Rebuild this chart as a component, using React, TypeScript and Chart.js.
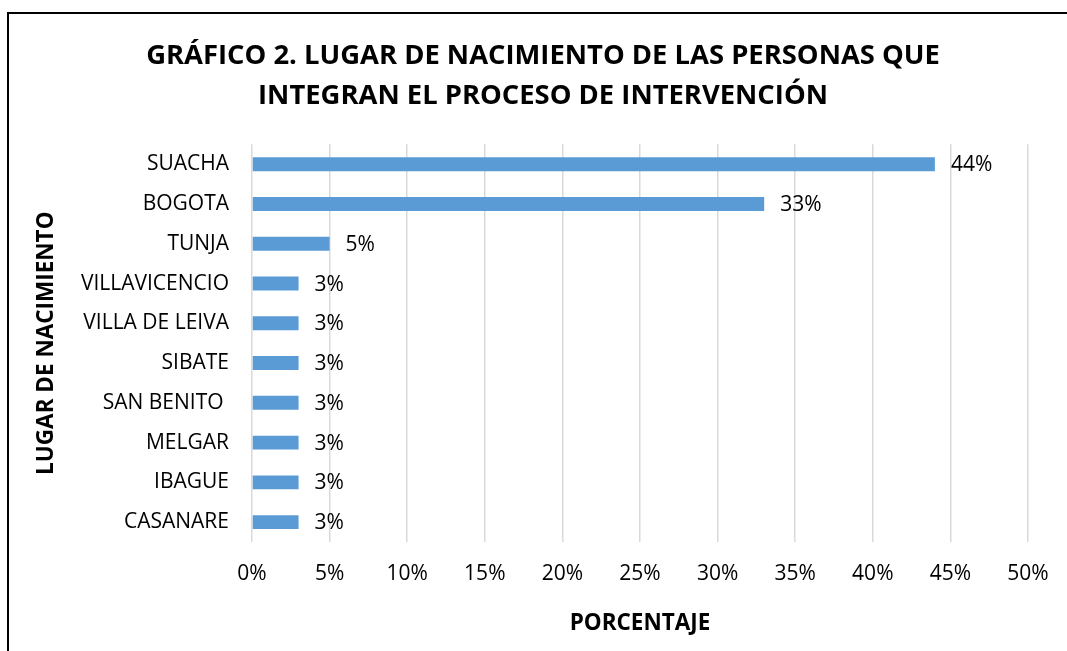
import React, { useEffect, useRef } from "react";
import { Chart, registerables } from "chart.js";

Chart.register(...registerables);

const categories = [
  "SUACHA",
  "BOGOTA",
  "TUNJA",
  "VILLAVICENCIO",
  "VILLA DE LEIVA",
  "SIBATE",
  "SAN BENITO ",
  "MELGAR",
  "IBAGUE",
  "CASANARE",
];
const values = [44, 33, 5, 3, 3, 3, 3, 3, 3, 3];
const titleLines = [
  "GRÁFICO 2. LUGAR DE NACIMIENTO DE LAS PERSONAS QUE",
  "INTEGRAN EL PROCESO DE INTERVENCIÓN",
];
const xTitle = "PORCENTAJE";
const yTitle = "LUGAR DE NACIMIENTO";
const xMin = 0;
const xMax = 50;
const xStep = 5;

const FONT = "'Open Sans', 'Noto Sans', sans-serif";

const labelPlugin = {
  id: "barValueLabels",
  afterDatasetsDraw(chart: any) {
    const ctx = chart.ctx;
    const meta = chart.getDatasetMeta(0);
    ctx.save();
    ctx.font = `21px ${FONT}`;
    ctx.fillStyle = "#000";
    ctx.textAlign = "left";
    ctx.textBaseline = "middle";
    meta.data.forEach((el: any, i: number) => {
      ctx.fillText(`${values[i]}%`, el.x + 16, el.y + 1);
    });
    ctx.restore();
  },
};

export default function App() {
  const ref = useRef<HTMLCanvasElement | null>(null);

  useEffect(() => {
    if (!ref.current) return;
    const chart = new Chart(ref.current, {
      type: "bar",
      data: {
        labels: categories,
        datasets: [
          {
            data: values,
            backgroundColor: "#5B9BD5",
            borderWidth: 0,
            categoryPercentage: 0.5,
            barPercentage: 0.7,
          },
        ],
      },
      options: {
        indexAxis: "y",
        animation: false,
        responsive: false,
        layout: { padding: { left: 0, right: 0, top: 0, bottom: 0 } },
        plugins: {
          legend: { display: false },
          tooltip: { enabled: false },
          title: {
            display: true,
            text: titleLines,
            color: "#000",
            font: { family: FONT, size: 27.4, weight: "bold", lineHeight: 1.43 },
            padding: { top: 37, bottom: 29 },
          },
        },
        scales: {
          x: {
            min: xMin,
            max: xMax,
            ticks: {
              stepSize: xStep,
              color: "#000",
              font: { family: FONT, size: 21 },
              padding: 19,
              callback: (v: any) => `${v}%`,
            },
            grid: { color: "#d9d9d9", lineWidth: 1.5, drawTicks: false },
            border: { display: false },
            title: {
              display: true,
              text: xTitle,
              color: "#000",
              font: { family: FONT, size: 22.5, weight: "bold" },
              padding: { top: 0, bottom: 13.5 },
            },
            afterFit: (scale: any) => {
              scale.height = 109;
            },
          },
          y: {
            ticks: {
              color: "#000",
              font: { family: FONT, size: 21 },
              padding: 23,
            },
            grid: { display: false, drawTicks: false },
            border: { display: false },
            title: {
              display: true,
              text: yTitle,
              color: "#000",
              font: { family: FONT, size: 22.5, weight: "bold" },
              padding: { top: 33, bottom: 0 },
            },
            afterFit: (scale: any) => {
              scale.width = 252;
            },
          },
          yRightSpace: {
            type: "category",
            position: "right",
            labels: categories,
            ticks: { display: false },
            grid: { display: false, drawTicks: false },
            border: { display: false },
            afterFit: (scale: any) => {
              scale.width = 58;
            },
          },
        },
      },
      plugins: [labelPlugin],
    });
    return () => chart.destroy();
  }, []);

  return (
    <div
      style={{
        position: "fixed",
        left: 0,
        top: 0,
        width: 1067,
        height: 651,
        background: "#fff",
        overflow: "hidden",
      }}
    >
      <canvas
        ref={ref}
        width={1086}
        height={651}
        style={{ position: "absolute", left: 0, top: 0, width: 1086, height: 651 }}
      />
      <div
        style={{
          position: "absolute",
          left: 7,
          top: 12,
          width: 1100,
          height: 700,
          border: "2px solid #000",
          pointerEvents: "none",
        }}
      />
    </div>
  );
}
